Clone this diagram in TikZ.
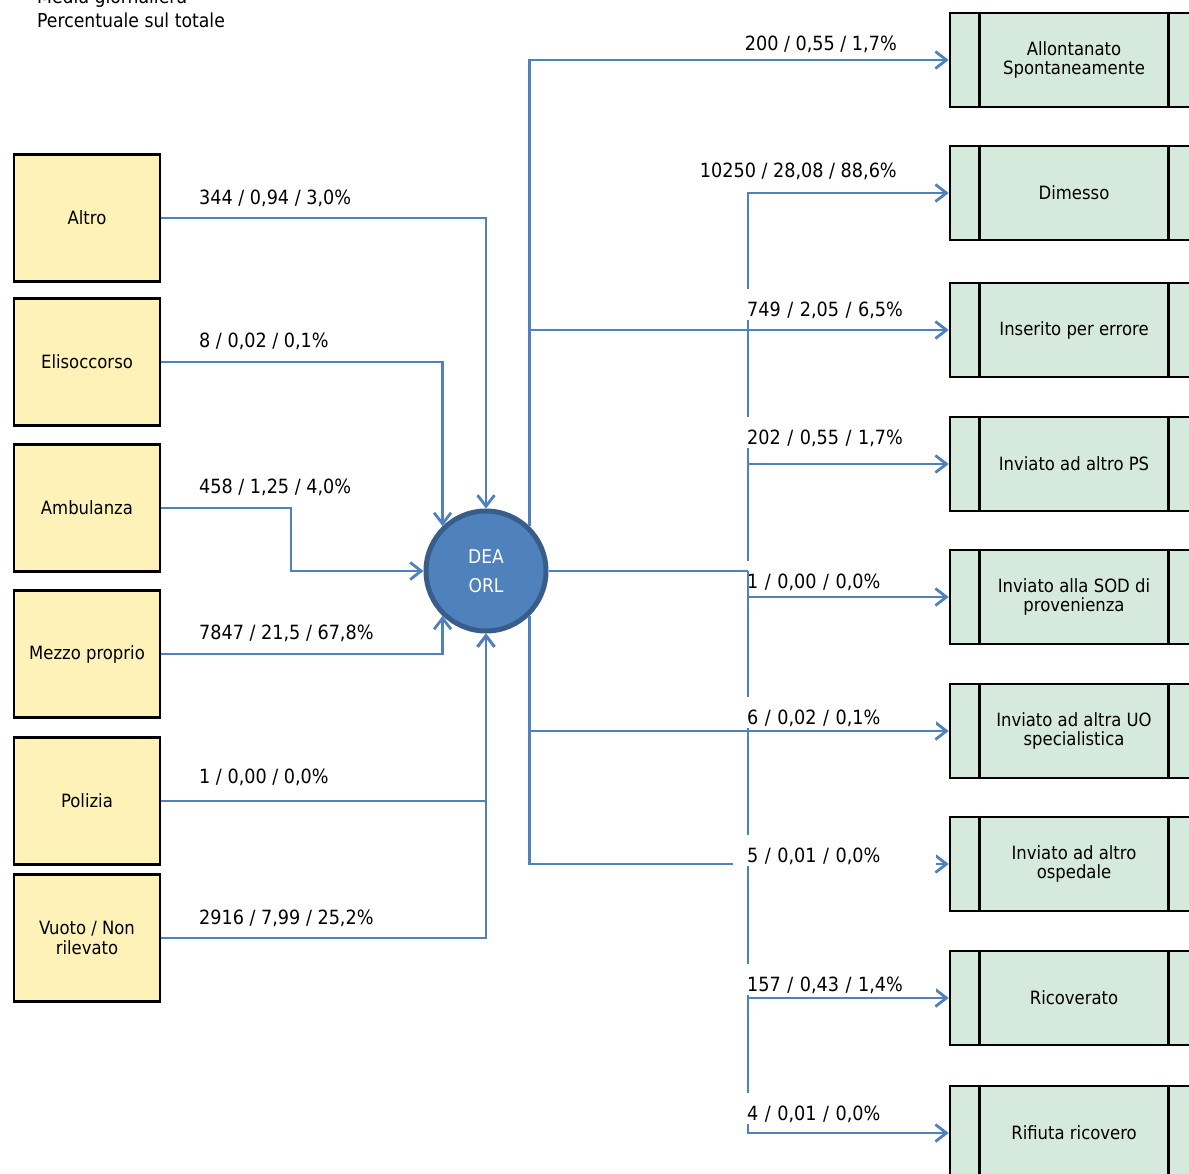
\documentclass[tikz,border=0pt]{standalone}
\usepackage{fontspec}
\setmainfont{DejaVu Sans Condensed}
\usetikzlibrary{arrows.meta, positioning}
\definecolor{srcyellow}{RGB}{255,242,185}
\definecolor{outgreen}{RGB}{214,233,221}
\definecolor{flowblue}{RGB}{79,129,189}
\definecolor{deablue}{RGB}{56,93,138}

\tikzset{
  srcbox/.style={draw=black, line width=2.6pt, fill=srcyellow, minimum width=146pt, minimum height=127pt, align=center, font=\fontsize{18.3}{20.5}\selectfont},
  outbox/.style={draw=black, line width=2.6pt, fill=outgreen, minimum width=248pt, minimum height=94pt, align=center, font=\fontsize{18.3}{19.5}\selectfont},
  flow/.style={draw=flowblue, line width=2.8pt},
  flowarrow/.style={flow, -{Straight Barb[length=11pt,width=17pt]}},
  lbl/.style={anchor=base west, inner sep=0pt, font=\fontsize{19.6}{22}\selectfont},
  rlbl/.style={anchor=base west, fill=white, inner xsep=14pt, inner ysep=1.5pt, text width=175pt, text height=26pt, text depth=2pt, font=\fontsize{19.6}{22}\selectfont},
}

\begin{document}
\begin{tikzpicture}[x=1pt, y=-1pt]
    % Background
    \useasboundingbox[fill=white] (0,0) rectangle (1189,1173);

    % Legend
    \node[lbl, font=\fontsize{19.2}{22}\selectfont] (leg1) at (37,3) {Media giornaliera};
    \node[lbl, font=\fontsize{19.2}{22}\selectfont] (leg2) at (37,27) {Percentuale sul totale};

    % Sources
    \node[srcbox] (altro) at (87,218) {Altro};
    \node[srcbox] (elis) at (87,362) {Elisoccorso};
    \node[srcbox] (amb) at (87,508) {Ambulanza};
    \node[srcbox] (mezzo) at (87,654) {Mezzo proprio};
    \node[srcbox] (pol) at (87,801) {Polizia};
    \node[srcbox] (vuoto) at (87,938) {Vuoto / Non\\rilevato};

    % Outcomes
    \node[outbox] (allont) at (1074,60) {Allontanato\\Spontaneamente};
    \node[outbox] (dimesso) at (1074,193) {Dimesso};
    \node[outbox] (errore) at (1074,330) {Inserito per errore};
    \node[outbox] (altrops) at (1074,464) {Inviato ad altro PS};
    \node[outbox] (sod) at (1074,597) {Inviato alla SOD di\\provenienza};
    \node[outbox] (altrauo) at (1074,731) {Inviato ad altra UO\\specialistica};
    \node[outbox] (osped) at (1074,864) {Inviato ad altro\\ospedale};
    \node[outbox] (ricov) at (1074,998) {Ricoverato};
    \node[outbox] (rifiuta) at (1074,1133) {Rifiuta ricovero};

    \foreach \n in {allont, dimesso, errore, altrops, sod, altrauo, osped, ricov, rifiuta} {
      \draw[line width=2.6pt] ([xshift=31pt]\n.north west) -- ([xshift=31pt]\n.south west);
      \draw[line width=2.6pt] ([xshift=-31pt]\n.north east) -- ([xshift=-31pt]\n.south east);
    }

    % DEA
    \node[circle, draw=deablue, line width=5pt, fill=flowblue, minimum size=120pt, align=center, text=white, font=\fontsize{19}{29}\selectfont] (dea) at (486,571) {DEA\\ORL};
    \coordinate (hub) at (748,571);
    \coordinate (bend) at (291,508);

    % Inflows
    \draw[flowarrow] (altro.east) -| (dea.north);
    \draw[flowarrow] (elis.east) -| (dea.134);
    \draw[flowarrow] (amb.east) -- (bend) |- (dea.west);
    \draw[flowarrow] (mezzo.east) -| (dea.226);
    \draw[flowarrow] (pol.east) -| (dea.south);
    \draw[flowarrow] (vuoto.east) -| (dea.south);

    \node[lbl] (lalt) at (199,204) {344 / 0,94 / 3,0\%};
    \node[lbl] (lelis) at (199,347) {8 / 0,02 / 0,1\%};
    \node[lbl] (lamb) at (199,493) {458 / 1,25 / 4,0\%};
    \node[lbl] (lmez) at (199,639) {7847 / 21,5 / 67,8\%};
    \node[lbl] (lpol) at (199,783) {1 / 0,00 / 0,0\%};
    \node[lbl] (lvuo) at (199,924) {2916 / 7,99 / 25,2\%};

    % Outflows
    \draw[flowarrow] (dea.46) |- (allont.west);
    \draw[flowarrow] (dea.46) |- (errore.west);
    \draw[flowarrow] (hub) |- (dimesso.west);
    \draw[flowarrow] (hub) |- (altrops.west);
    \draw[flowarrow] (hub) |- (ricov.west);
    \draw[flowarrow] (hub) |- (rifiuta.west);
    \draw[flowarrow] (dea.-46) |- (altrauo.west);
    \draw[flowarrow] (dea.-46) |- (osped.west);

    \node[lbl, anchor=base east] (lall) at (897,50) {200 / 0,55 / 1,7\%};
    \node[lbl, anchor=base east] (ldim) at (897,177) {10250 / 28,08 / 88,6\%};
    \node[rlbl] (lerr) at (733,316) {749 / 2,05 / 6,5\%};
    \node[rlbl] (lps) at (733,444) {202 / 0,55 / 1,7\%};
    \node[rlbl] (lsod) at (733,588) {1 / 0,00 / 0,0\%};
    \node[rlbl] (luo) at (733,724) {6 / 0,02 / 0,1\%};
    \node[rlbl] (losp) at (733,862) {5 / 0,01 / 0,0\%};
    \node[rlbl] (lric) at (733,991) {157 / 0,43 / 1,4\%};
    \node[rlbl] (lrif) at (733,1120) {4 / 0,01 / 0,0\%};

    \draw[flow] (dea.east) -- (hub);
    \draw[flowarrow] (hub) |- (sod.west);
\end{tikzpicture}
\end{document}
